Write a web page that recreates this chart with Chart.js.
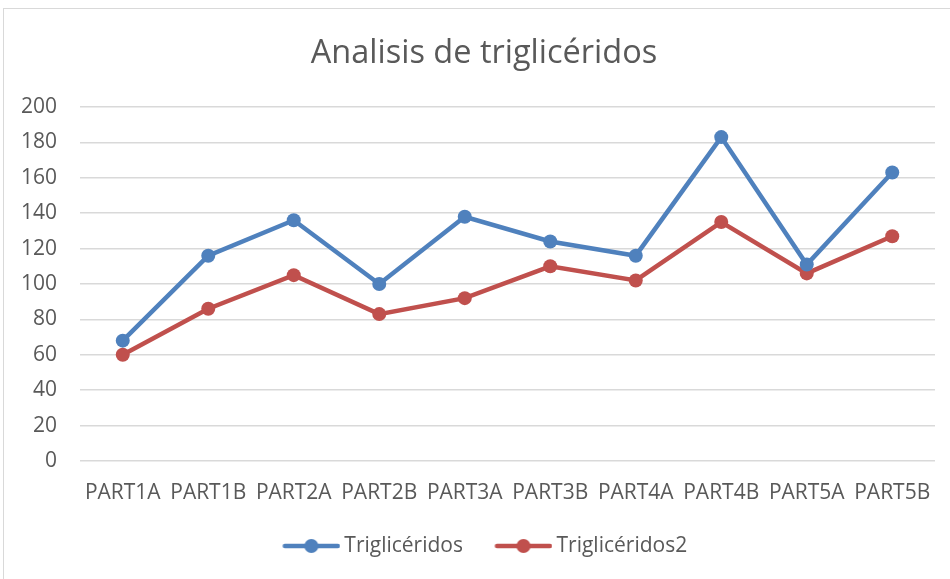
<!DOCTYPE html>
<html><head><meta charset="utf-8">
<script src="https://cdn.jsdelivr.net/npm/chart.js@4/dist/chart.umd.min.js"></script>
<style>
html,body{margin:0;padding:0;background:#fff;}
canvas{display:block;}
</style></head>
<body>
<canvas id="c" width="950" height="579"></canvas>
<script>
const categories = ["PART1A","PART1B","PART2A","PART2B","PART3A","PART3B","PART4A","PART4B","PART5A","PART5B"];
const trigliceridos = [68,116,136,100,138,124,116,183,111,163];
const trigliceridos2 = [60,86,105,83,92,110,102,135,106,127];
const seriesNames = ["Triglicéridos","Triglicéridos2"];
const yTicks = [0,20,40,60,80,100,120,140,160,180,200];
const colors = ["#4f81bd","#c0504d"];
const FONT = "'Open Sans', 'Liberation Sans', sans-serif";

// legend icon: transparent left gap + line with circle marker
const ICON_LEFT = 28, ICON_W = ICON_LEFT + 58, ICON_BOX = ICON_W - 13;
function legendIcon(color){
  const cv = document.createElement('canvas');
  cv.width = ICON_W; cv.height = 16;
  const g = cv.getContext('2d');
  g.strokeStyle = color; g.lineWidth = 4.5; g.lineCap = 'round';
  g.beginPath(); g.moveTo(ICON_LEFT + 2.5, 8); g.lineTo(ICON_W - 2.5, 8); g.stroke();
  g.fillStyle = color; g.beginPath(); g.arc(ICON_LEFT + 29, 8, 7, 0, Math.PI*2); g.fill();
  return cv;
}
const icons = colors.map(legendIcon);

const frame = {
  id: 'frame',
  beforeDraw(chart){
    const ctx = chart.ctx;
    ctx.save();
    ctx.fillStyle = '#fff';
    ctx.fillRect(0,0,chart.width,chart.height);
    ctx.strokeStyle = '#d9d9d9'; ctx.lineWidth = 1;
    ctx.strokeRect(3.5, 8.5, chart.width + 10, chart.height + 10);
    ctx.restore();
  }
};

// nudge title and legend boxes horizontally to match the reference centring
const nudge = {
  id: 'nudge',
  afterLayout(chart){
    const shift = (b, dx) => { if (b) { b.left += dx; b.right += dx; } };
    shift(chart.titleBlock, 16.5);
    shift(chart.legend, 6.5);
  }
};

new Chart(document.getElementById('c'), {
  type: 'line',
  data: {
    labels: categories,
    datasets: [
      {label: seriesNames[0], data: trigliceridos, borderColor: colors[0], backgroundColor: colors[0], borderWidth: 4.5, pointRadius: 7, pointHoverRadius: 7, pointBorderWidth: 0, tension: 0},
      {label: seriesNames[1], data: trigliceridos2, borderColor: colors[1], backgroundColor: colors[1], borderWidth: 4.5, pointRadius: 7, pointHoverRadius: 7, pointBorderWidth: 0, tension: 0}
    ]
  },
  plugins: [frame, nudge],
  options: {
    responsive: false,
    animation: false,
    layout: {padding: {left: 0, right: 15, top: 0, bottom: 12.5}},
    plugins: {
      title: {display: true, text: 'Analisis de triglicéridos', color: '#595959', font: {family: FONT, size: 32.5, weight: 'normal', lineHeight: 1.2}, padding: {top: 34, bottom: 34}},
      legend: {
        position: 'bottom',
        labels: {
          color: '#595959', font: {family: FONT, size: 21}, usePointStyle: true, pointStyleWidth: ICON_BOX, padding: 10, boxHeight: 16,
          generateLabels: (chart) => chart.data.datasets.map((d,i)=>({text: d.label, pointStyle: icons[i], fontColor: '#595959', datasetIndex: i, strokeStyle: colors[i], fillStyle: colors[i], lineWidth: 0}))
        }
      },
      tooltip: {enabled: false}
    },
    scales: {
      x: {
        offset: true,
        grid: {display: false, drawTicks: false},
        border: {display: false},
        ticks: {color: '#595959', font: {family: FONT, size: 21}, padding: 19, maxRotation: 0, autoSkip: false},
        afterFit: (s) => { s.height = 64.5; }
      },
      y: {
        min: 0, max: 200,
        afterBuildTicks: (ax) => { ax.ticks = yTicks.map(v=>({value:v})); },
        grid: {color: '#d9d9d9', lineWidth: 1.5, drawTicks: false},
        border: {display: false},
        ticks: {color: '#595959', font: {family: FONT, size: 21}, padding: 23},
        afterFit: (s) => { s.width = 80; }
      }
    }
  }
});
</script>
</body></html>
